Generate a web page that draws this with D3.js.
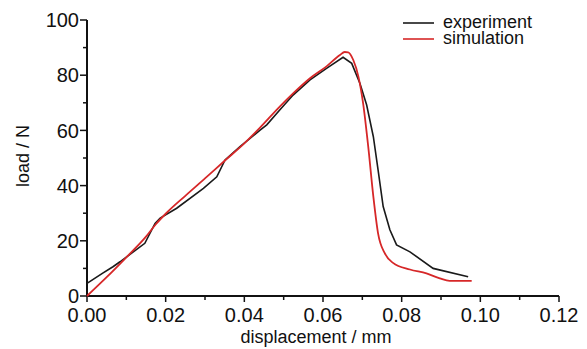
<!DOCTYPE html>
<html>
<head>
<meta charset="utf-8">
<script src="https://cdn.jsdelivr.net/npm/d3@7"></script>
<style>
  body { margin: 0; background: #fff; }
  svg text { font-family: "Liberation Sans Narrow", "Liberation Sans", Arial, sans-serif; fill: #111; }
</style>
</head>
<body>
<div id="chart"></div>
<script>
// experiment curve (displacement mm, load N)
const expX = [0, 0.004, 0.0066, 0.0084, 0.0147, 0.0173, 0.0186, 0.0228, 0.0296, 0.033, 0.0351, 0.0389,
  0.044, 0.0457, 0.049, 0.0524, 0.0567, 0.0609, 0.0651, 0.0673, 0.0694, 0.0711, 0.0728, 0.074,
  0.0753, 0.077, 0.0787, 0.0821, 0.088, 0.0969];
const expY = [4.6, 8.3, 10.6, 12.4, 19.1, 26.3, 28.2, 31.8, 39, 43.2, 49.3, 54.1,
  60.1, 62, 67.4, 72.8, 78.3, 82.5, 86.5, 84.3, 77, 69.2, 57.7, 45.7,
  32.4, 24, 18.5, 16, 10, 7];

// simulation curve
const simX = [0, 0.005, 0.01, 0.015, 0.0175, 0.02, 0.025, 0.03, 0.035, 0.04, 0.044, 0.049, 0.0524,
  0.0567, 0.0609, 0.0643, 0.0655, 0.0664, 0.0677, 0.069, 0.0702, 0.0715, 0.0728, 0.074, 0.0757,
  0.0778, 0.0821, 0.0863, 0.0897, 0.0922, 0.0978];
const simY = [0, 6.8, 14, 21.5, 26, 29.8, 36.3, 42.6, 49, 55.3, 61, 68.6, 73.4,
  78.9, 83.2, 87.3, 88.4, 88.3, 85.5, 79.5, 69.8, 54.1, 36, 22.7, 15.5,
  12, 9.6, 8.2, 6.4, 5.5, 5.5];

const xTicks = [0, 0.02, 0.04, 0.06, 0.08, 0.10, 0.12];
const yTicks = [0, 20, 40, 60, 80, 100];
const legendNames = ["experiment", "simulation"];
const colors = ["#1a1a1a", "#d62728"];

const width = 587, height = 349;
const margin = { left: 87, right: 28, top: 20, bottom: 53 };

const svg = d3.select("#chart").append("svg")
  .attr("width", width)
  .attr("height", height);

const x = d3.scaleLinear().domain([0, 0.12]).range([margin.left, width - margin.right]);
const y = d3.scaleLinear().domain([0, 100]).range([height - margin.bottom, margin.top]);

// y axis
const yAxis = svg.append("g").attr("transform", `translate(${margin.left},0)`);
yAxis.append("line")
  .attr("x1", 0).attr("x2", 0)
  .attr("y1", y(0)).attr("y2", y(100))
  .attr("stroke", "#111").attr("stroke-width", 2);
yAxis.selectAll("line.minor")
  .data(d3.range(10, 100, 20))
  .join("line").attr("class", "minor")
  .attr("x1", 0).attr("x2", -4)
  .attr("y1", d => y(d)).attr("y2", d => y(d))
  .attr("stroke", "#111").attr("stroke-width", 1.5);
yAxis.selectAll("line.major")
  .data(yTicks)
  .join("line").attr("class", "major")
  .attr("x1", 0).attr("x2", -7)
  .attr("y1", d => y(d)).attr("y2", d => y(d))
  .attr("stroke", "#111").attr("stroke-width", 1.5);
yAxis.selectAll("text")
  .data(yTicks)
  .join("text")
  .attr("x", -8)
  .attr("y", d => y(d))
  .attr("dy", "0.36em")
  .attr("text-anchor", "end")
  .style("font-size", "20px")
  .text(d => d);

// x axis
const xAxis = svg.append("g").attr("transform", `translate(0,${y(0)})`);
xAxis.append("line")
  .attr("x1", x(0)).attr("x2", x(0.12))
  .attr("y1", 0).attr("y2", 0)
  .attr("stroke", "#111").attr("stroke-width", 2);
xAxis.selectAll("line.minor")
  .data(d3.range(0.01, 0.12, 0.02))
  .join("line").attr("class", "minor")
  .attr("x1", d => x(d)).attr("x2", d => x(d))
  .attr("y1", 0).attr("y2", 4)
  .attr("stroke", "#111").attr("stroke-width", 1.5);
xAxis.selectAll("line.major")
  .data(xTicks)
  .join("line").attr("class", "major")
  .attr("x1", d => x(d)).attr("x2", d => x(d))
  .attr("y1", 0).attr("y2", 6)
  .attr("stroke", "#111").attr("stroke-width", 1.5);
xAxis.selectAll("text")
  .data(xTicks)
  .join("text")
  .attr("x", d => x(d))
  .attr("y", 26)
  .attr("text-anchor", "middle")
  .style("font-size", "20px")
  .text(d => d3.format(".2f")(d));

// axis titles
svg.append("text")
  .attr("transform", "translate(29,156) rotate(-90)")
  .attr("text-anchor", "middle")
  .style("font-size", "18px")
  .text("load / N");
svg.append("text")
  .attr("x", 316)
  .attr("y", 343)
  .attr("text-anchor", "middle")
  .style("font-size", "18px")
  .text("displacement / mm");

// curves
const expLine = d3.line().x(d => x(d[0])).y(d => y(d[1]));
const simLine = d3.line().x(d => x(d[0])).y(d => y(d[1])).curve(d3.curveMonotoneX);

svg.append("path")
  .datum(expX.map((v, i) => [v, expY[i]]))
  .attr("d", expLine)
  .attr("fill", "none")
  .attr("stroke", colors[0])
  .attr("stroke-width", 1.6);

svg.append("path")
  .datum(simX.map((v, i) => [v, simY[i]]))
  .attr("d", simLine)
  .attr("fill", "none")
  .attr("stroke", colors[1])
  .attr("stroke-width", 1.8);

// legend
const legend = svg.append("g").attr("transform", "translate(403,23)");
legend.selectAll("g")
  .data(legendNames)
  .join("g")
  .attr("transform", (d, i) => `translate(0,${i * 16})`)
  .each(function (d, i) {
    const g = d3.select(this);
    g.append("line")
      .attr("x1", 0).attr("x2", 31)
      .attr("y1", 0).attr("y2", 0)
      .attr("stroke", colors[i]).attr("stroke-width", 1.6);
    g.append("text")
      .attr("x", 40)
      .attr("y", 0)
      .attr("dy", "0.3em")
      .style("font-size", "18px")
      .text(d);
  });
</script>
</body>
</html>
